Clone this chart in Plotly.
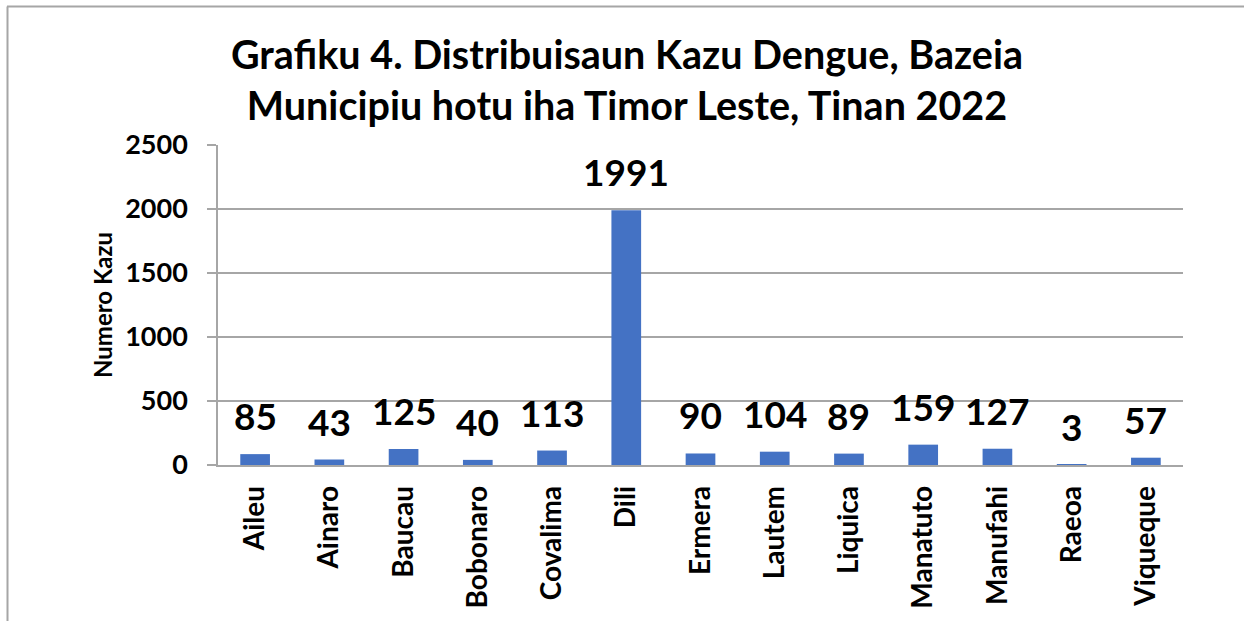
import plotly.graph_objects as go

_BLUE = "#4472c4"
_GRID = "#a6a6a6"
_FONT = "Lato"

municipios = ["Aileu", "Ainaro", "Baucau", "Bobonaro", "Covalima", "Dili", "Ermera",
              "Lautem", "Liquica", "Manatuto", "Manufahi", "Raeoa", "Viqueque"]
kazu = [85, 43, 125, 40, 113, 1991, 90, 104, 89, 159, 127, 3, 57]
y_ticks = [0, 500, 1000, 1500, 2000, 2500]

W, H = 1244, 621
L, R, T, B = 218, 61, 145, 156
pw, ph = W - L - R, H - T - B


def px_x(x):
    """Pixel x -> paper x."""
    return (x - L) / pw


def px_y(y):
    """Pixel y (from top) -> paper y."""
    return (H - B - y) / ph


fig = go.Figure(go.Bar(
    x=municipios, y=kazu, marker_color=_BLUE, marker_line_width=0,
    hoverinfo="x+y",
))

annotations = [
    dict(x=m, y=v, xref="x", yref="y", text=f"<b>{v}</b>", showarrow=False,
         yanchor="bottom", yshift=14, font=dict(family=_FONT, size=37, color="black"))
    for m, v in zip(municipios, kazu)
]
annotations.append(dict(
    x=px_x(102), y=px_y(305), xref="paper", yref="paper", text="<b>Numero Kazu</b>",
    xanchor="center", yanchor="middle",
    textangle=-90, showarrow=False, font=dict(family=_FONT, size=24, color="black"),
))

fig.update_layout(
    width=W, height=H, autosize=False,
    margin=dict(l=L, r=R, t=T, b=B),
    paper_bgcolor="white", plot_bgcolor="white",
    bargap=0.6,
    showlegend=False,
    title=dict(
        text="<b>Grafiku 4. Distribuisaun Kazu Dengue, Bazeia<br>Municipiu hotu iha Timor Leste, Tinan 2022</b>",
        x=627 / W, xanchor="center", xref="container",
        y=1 - 69 / H, yanchor="middle", yref="container",
        font=dict(family=_FONT, size=39.5, color="black"),
    ),
    xaxis=dict(
        showgrid=False, showline=True, linecolor=_GRID, linewidth=1.5,
        tickangle=-90, ticks="", ticklabelstandoff=8, automargin=False,
        tickfont=dict(family=_FONT, size=28, color="black", weight="bold"),
    ),
    yaxis=dict(
        range=[0, 2500], tickvals=y_ticks, showgrid=True, gridcolor=_GRID, gridwidth=1.5,
        showline=True, linecolor=_GRID, linewidth=1.5, zeroline=False, automargin=False,
        ticks="outside", ticklen=9, tickcolor=_GRID, tickwidth=1.5, ticklabelstandoff=14,
        tickfont=dict(family=_FONT, size=27, color="black", weight="bold"),
    ),
    annotations=annotations,
    shapes=[
        dict(type="line", xref="paper", yref="paper", x0=px_x(7), x1=px_x(W + 5),
             y0=px_y(6.5), y1=px_y(6.5), line=dict(color=_GRID, width=2)),
        dict(type="line", xref="paper", yref="paper", x0=px_x(7.5), x1=px_x(7.5),
             y0=px_y(6.5), y1=px_y(H + 5), line=dict(color=_GRID, width=2)),
    ],
)

# drop the browser's default 8px body margin and any scrollbars
fig.write_html(
    "out.html",
    config={"displayModeBar": False, "responsive": False},
    post_script="document.body.style.margin = '0'; document.body.style.overflow = 'hidden';",
)
